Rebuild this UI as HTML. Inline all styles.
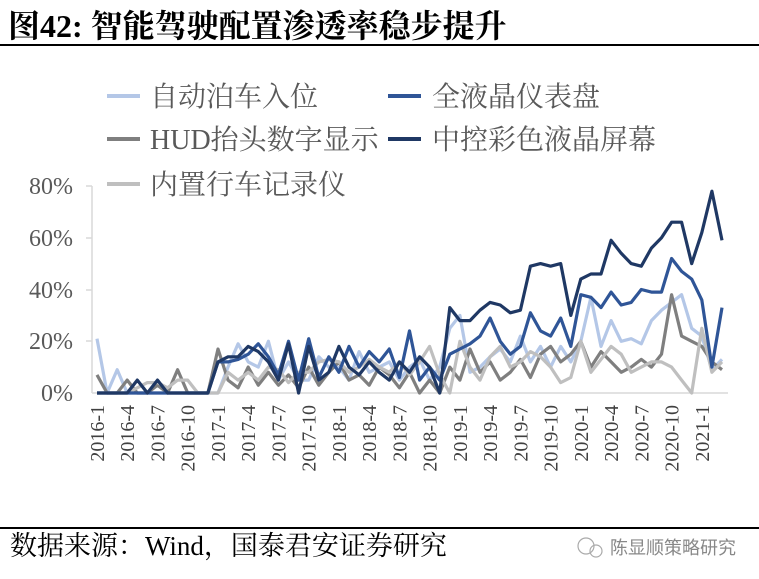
<!DOCTYPE html>
<html><head><meta charset="utf-8"><style>
body{margin:0;background:#fff;width:759px;height:579px;overflow:hidden;font-family:"Liberation Serif","Noto Serif CJK SC",serif;}
</style></head><body>
<svg id="s" width="759" height="579" xmlns="http://www.w3.org/2000/svg" style="position:absolute;left:0;top:0">
<text x="8" y="37" font-size="32" font-weight="bold" fill="#000" font-family="Liberation Serif,Noto Serif CJK SC,serif">图42: 智能驾驶配置渗透率稳步提升</text>
<line x1="0" y1="45" x2="759" y2="45" stroke="#000" stroke-width="2"/>
<line x1="0" y1="528" x2="759" y2="528" stroke="#000" stroke-width="2"/>
<text x="10" y="555" font-size="27" fill="#000">数据来源：Wind，国泰君安证券研究</text>
<text x="610" y="554" font-size="18" fill="#888" font-family="Liberation Sans,Noto Sans CJK SC,sans-serif">陈显顺策略研究</text>
<circle cx="586" cy="546" r="8" fill="none" stroke="#aaa" stroke-width="1.2"/>
<circle cx="596" cy="551" r="6" fill="none" stroke="#aaa" stroke-width="1.2"/>
<g font-size="28" fill="#595959">
<line x1="107" y1="96" x2="140" y2="96" stroke="#b4c7e7" stroke-width="4"/><text x="150" y="106">自动泊车入位</text>
<line x1="388" y1="96" x2="421" y2="96" stroke="#2f5597" stroke-width="4"/><text x="432" y="106">全液晶仪表盘</text>
<line x1="107" y1="139" x2="140" y2="139" stroke="#7f7f7f" stroke-width="4"/><text x="150" y="149">HUD抬头数字显示</text>
<line x1="388" y1="139" x2="421" y2="139" stroke="#1f3864" stroke-width="4"/><text x="432" y="149">中控彩色液晶屏幕</text>
<line x1="107" y1="184" x2="140" y2="184" stroke="#bfbfbf" stroke-width="4"/><text x="150" y="194">内置行车记录仪</text>
</g>
<g font-size="24" fill="#595959" text-anchor="end">
<text x="73" y="194">80%</text><text x="73" y="246">60%</text><text x="73" y="298">40%</text><text x="73" y="349">20%</text><text x="73" y="401">0%</text>
</g>
<line x1="92" y1="186" x2="92" y2="393" stroke="#d9d9d9" stroke-width="1.5"/>
<g stroke="#d9d9d9" stroke-width="1.5"><line x1="86" y1="186" x2="92" y2="186"/><line x1="86" y1="238" x2="92" y2="238"/><line x1="86" y1="290" x2="92" y2="290"/><line x1="86" y1="341" x2="92" y2="341"/></g>
<line x1="92" y1="393" x2="728" y2="393" stroke="#d9d9d9" stroke-width="1.5"/>
<g id="lines"></g>
<g id="xl" font-size="20" fill="#404040"></g>
</svg>
<script>
var D=[
["#b4c7e7",[21,0,9,0,0,0,0,0,0,0,0,0, 0,10,19,12,10,20,5,12,5,5,14,10, 10,5,16,8,10,12,5,10,13,5,10,25, 30,8,10,14,17,12,22,12,18,10,18,12, 20,37,18,28,20,21,19,28,32,35,38,25, 22,9,13]],
["#7f7f7f",[7,0,0,5,0,0,3,0,9,0,0,0, 17,5,2,10,3,8,3,7,2,10,3,8, 12,5,7,3,10,7,2,8,0,5,0,10, 5,17,8,12,5,8,13,6,15,18,12,15, 20,10,16,12,8,10,13,10,15,38,22,20, 18,12,9]],
["#bfbfbf",[0,0,0,0,2,4,4,2,5,5,0,0, 0,8,5,8,5,10,9,4,8,8,12,13, 12,8,10,13,10,8,12,7,12,18,7,0, 20,10,5,14,18,10,12,16,14,10,4,6, 20,8,13,18,15,8,10,12,12,10,5,0, 25,8,12]],
["#2f5597",[0,0,0,0,0,0,0,0,0,0,0,0, 12,12,13,15,19,14,7,20,5,21,6,14, 8,18,10,16,12,17,6,24,5,10,5,15, 17,19,22,29,20,15,18,31,24,22,29,18, 38,37,33,39,34,35,40,39,39,52,47,44, 36,10,33]],
["#1f3864",[0,0,0,0,5,0,5,0,0,0,0,0, 12,14,14,18,16,12,5,19,0,18,5,8, 18,10,7,12,8,5,12,8,14,10,0,33, 28,28,32,35,34,31,32,49,50,49,50,30, 44,46,46,59,54,50,49,56,60,66,66,50, 62,78,59]]];
var g=document.getElementById("lines"),h="";
D.forEach(function(s){var p=s[1].map(function(v,i){return (97+i*10.08).toFixed(1)+","+(393-v*2.5875).toFixed(1)}).join(" ");
h+='<polyline points="'+p+'" fill="none" stroke="'+s[0]+'" stroke-width="3.2" stroke-linejoin="round"/>';});
g.innerHTML=h;
var L=["2016-1","2016-4","2016-7","2016-10","2017-1","2017-4","2017-7","2017-10","2018-1","2018-4","2018-7","2018-10","2019-1","2019-4","2019-7","2019-10","2020-1","2020-4","2020-7","2020-10","2021-1"],x="";
L.forEach(function(t,i){var cx=97+i*3*10.08+7;x+='<text transform="translate('+cx.toFixed(1)+',405) rotate(-90)" text-anchor="end">'+t+'</text>';});
document.getElementById("xl").innerHTML=x;
</script>
</body></html>
